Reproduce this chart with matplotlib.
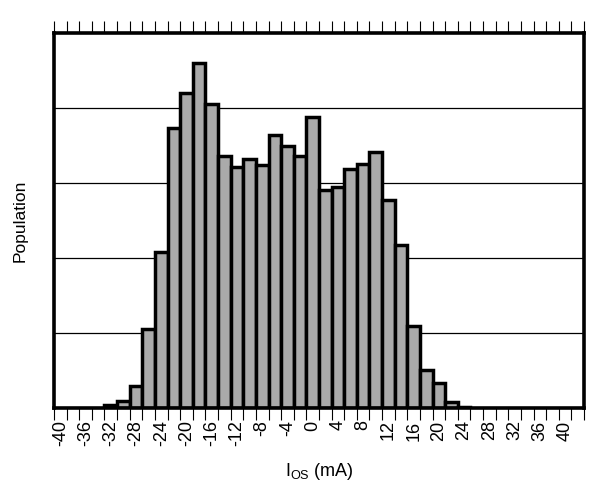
import matplotlib
matplotlib.use("Agg")
import matplotlib.pyplot as plt
import numpy as np

plt.rcParams['font.family'] = ['Liberation Sans', 'DejaVu Sans']
plt.rcParams['mathtext.fontset'] = 'custom'
plt.rcParams['mathtext.rm'] = 'Liberation Sans'

# Bin centres (mA) and population heights (grid units)
bin_centers = [-32, -30, -28, -26, -24, -22, -20, -18, -16, -14, -12, -10, -8, -6,
               -4, -2, 0, 2, 4, 6, 8, 10, 12, 14, 16, 18, 20, 22, 24]
population = [0.044, 0.093, 0.30, 1.05, 2.08, 3.74, 4.20, 4.60, 4.05, 3.36, 3.21,
              3.32, 3.24, 3.64, 3.50, 3.36, 3.88, 2.91, 2.95, 3.19, 3.26, 3.41,
              2.77, 2.18, 1.10, 0.51, 0.33, 0.076, 0.013]
tick_labels = [-40, -36, -32, -28, -24, -20, -16, -12, -8, -4, 0, 4, 8, 12, 16, 20,
               24, 28, 32, 36, 40]
bin_edges = list(range(-41, 44, 2))
grid_levels = [1, 2, 3, 4]

fig = plt.figure(figsize=(6.14, 4.91), dpi=100)
ax = fig.add_axes([54/614, 83/491, 530/614, 375/491])

ax.bar(bin_centers, population, width=2, color='#aaaaaa', edgecolor='black',
       linewidth=2.5, zorder=3)

ax.set_xlim(-41, 43)
ax.set_ylim(0, 5)

ax.set_yticks(grid_levels)
ax.set_yticklabels([])
ax.tick_params(axis='y', length=0)
ax.grid(axis='y', color='black', linewidth=0.9)
ax.set_axisbelow(True)

ax.set_xticks(tick_labels)
ax.set_xticklabels([str(v) for v in tick_labels], rotation=90, fontsize=13,
                   va='top', ha='center')
ax.set_xticks(bin_edges, minor=True)
ax.tick_params(axis='x', which='major', length=0, pad=9)
ax.tick_params(axis='x', which='minor', length=8.5, width=0.8, direction='out',
               top=True, bottom=True)

for s in ax.spines.values():
    s.set_linewidth(2.6)
    s.set_zorder(4)

ax.set_xlabel(r'I$_{\mathregular{OS}}$ (mA)', fontsize=13)
ax.xaxis.set_label_coords(0.5, -0.14)
ax.set_ylabel('Population', fontsize=12.5)
ax.yaxis.set_label_coords(-0.05, 0.5)

fig.savefig('out.png', dpi=100)
